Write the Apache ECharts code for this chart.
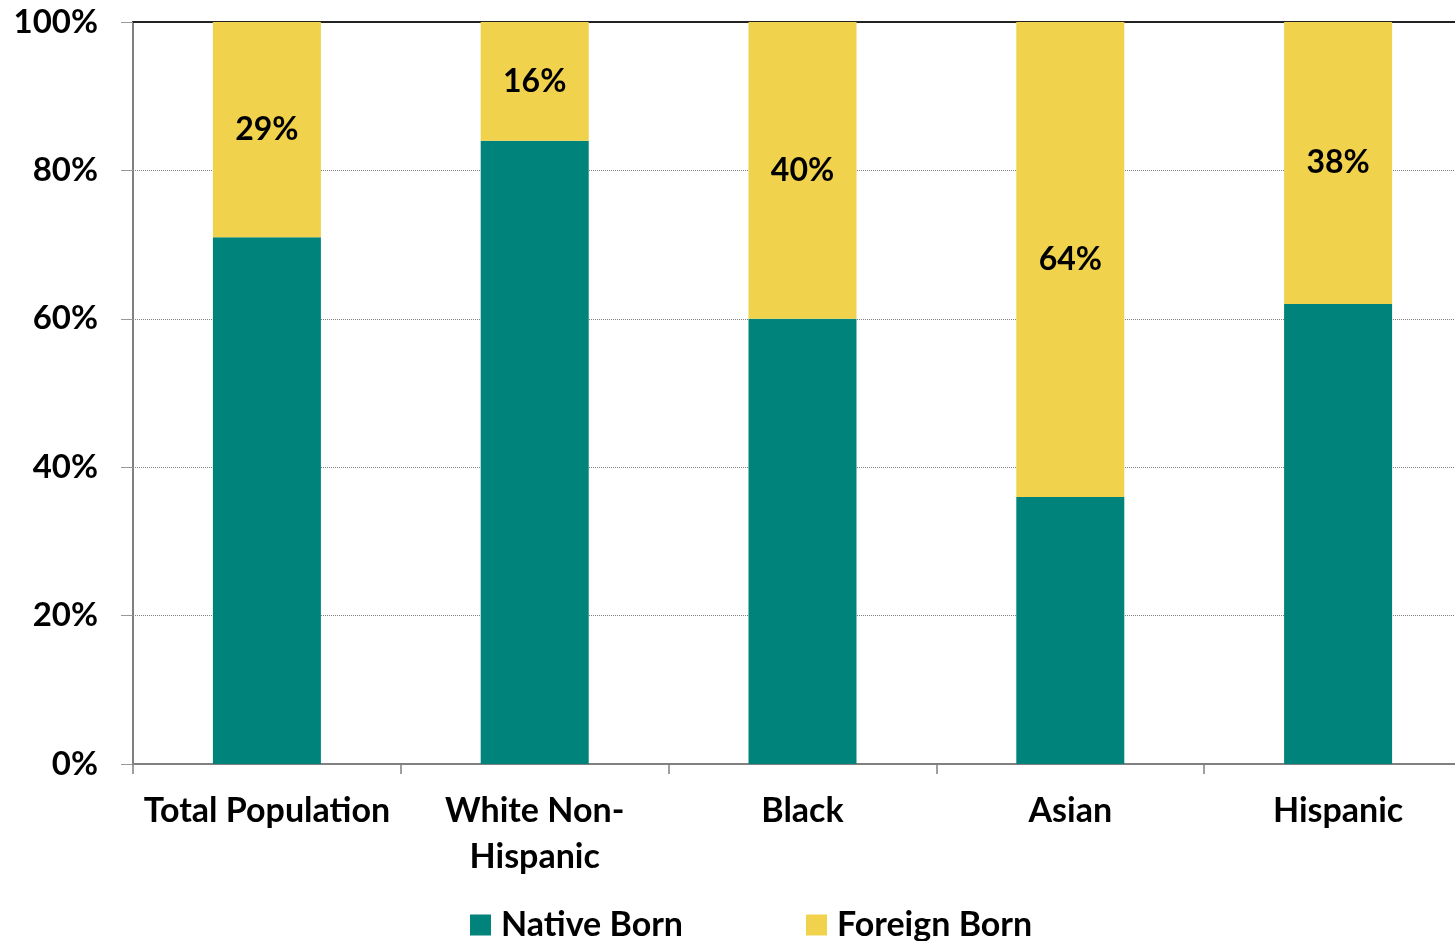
<!DOCTYPE html>
<html>
<head>
<meta charset="utf-8">
<script src="https://cdn.jsdelivr.net/npm/echarts@6/dist/echarts.min.js"></script>
<style>
html,body{margin:0;padding:0;background:#fff;}
#chart{width:1455px;height:941px;}
</style>
</head>
<body>
<div id="chart"></div>
<script>
const categories = ['Total Population', 'White Non-\nHispanic', 'Black', 'Asian', 'Hispanic'];
const nativeBorn = [71, 84, 60, 36, 62];
const foreignBorn = [29, 16, 40, 64, 38];
const yTicks = [0, 20, 40, 60, 80, 100];

const FONT = 'Lato';
const chart = echarts.init(document.getElementById('chart'));
chart.setOption({
  animation: false,
  textStyle: { fontFamily: FONT },
  grid: { left: 133, width: 1339, top: 22, bottom: 177, containLabel: false, outerBoundsMode: 'none' },
  legend: {
    left: 465, top: 903,
    itemWidth: 21, itemHeight: 21, itemGap: 123,
    icon: 'rect',
    textStyle: { fontFamily: FONT, fontSize: 34, fontWeight: 'bold', color: '#000', padding: [0, 0, 0, 5] },
    data: ['Native Born', 'Foreign Born']
  },
  xAxis: [{
    type: 'category',
    data: categories,
    axisLine: { show: true, lineStyle: { color: '#808080', width: 2 } },
    axisTick: { show: true, alignWithLabel: false, length: 10, lineStyle: { color: '#808080', width: 1.5 } },
    axisLabel: { fontFamily: FONT, fontSize: 34, fontWeight: 'bold', color: '#000', margin: 24, lineHeight: 46, interval: 0 }
  }, {
    type: 'category',
    position: 'top',
    data: categories,
    axisLine: { show: true, lineStyle: { color: '#222', width: 2 } },
    axisTick: { show: false },
    axisLabel: { show: false }
  }],
  yAxis: {
    type: 'value',
    min: yTicks[0], max: yTicks[yTicks.length - 1], interval: 20,
    axisLine: { show: true, lineStyle: { color: '#808080', width: 2 } },
    axisTick: { show: true, length: 12, lineStyle: { color: '#999', width: 1 } },
    axisLabel: { fontFamily: FONT, fontSize: 33, fontWeight: 'bold', color: '#000', margin: 35, formatter: '{value}%' },
    splitLine: { show: true, lineStyle: { color: '#808080', type: 'dotted', width: 1 } }
  },
  series: [{
    name: 'Native Born',
    type: 'bar',
    stack: 'total',
    barWidth: 108,
    data: nativeBorn,
    itemStyle: { color: '#00837A' }
  }, {
    name: 'Foreign Born',
    type: 'bar',
    stack: 'total',
    barWidth: 108,
    data: foreignBorn,
    itemStyle: { color: '#F0D24C' },
    label: { show: true, position: 'inside', formatter: '{c}%', fontFamily: FONT, fontSize: 32, fontWeight: 'bold', color: '#000' }
  }]
});
</script>
</body>
</html>
